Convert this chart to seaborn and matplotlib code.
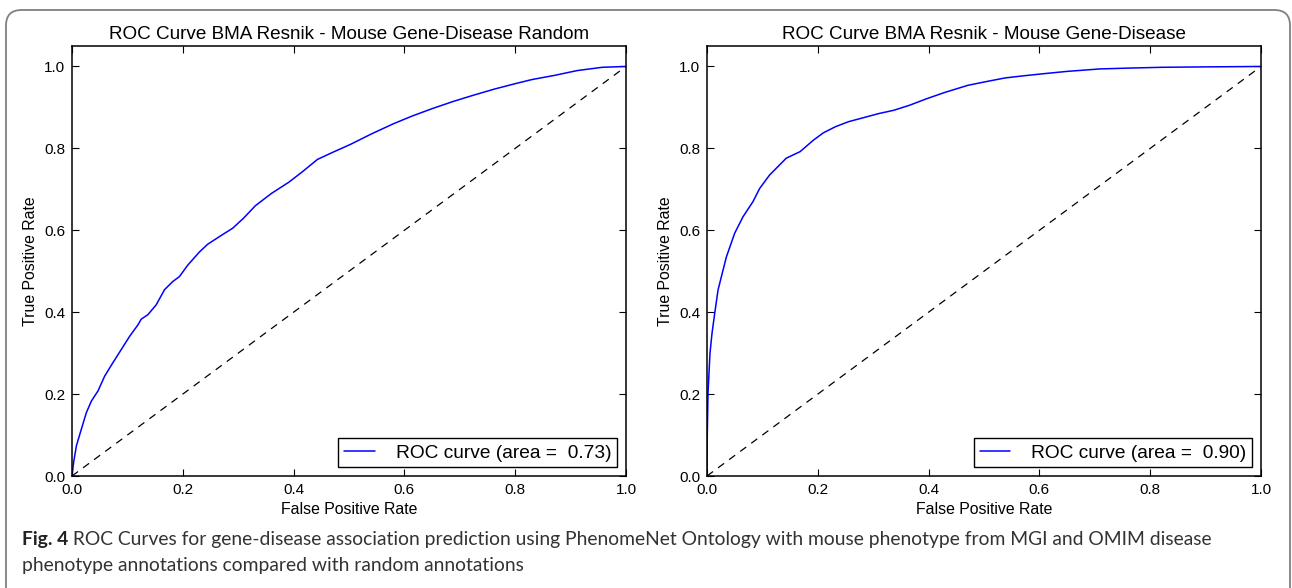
import numpy as np
import pandas as pd
import matplotlib
matplotlib.use("Agg")
import matplotlib.pyplot as plt
import seaborn as sns
from matplotlib.patches import FancyBboxPatch

# ---------------- data ----------------
fpr_random = [0, 0.003, 0.008, 0.017, 0.026, 0.035, 0.047, 0.059, 0.074, 0.089, 0.104,
              0.119, 0.125, 0.137, 0.152, 0.167, 0.182, 0.194, 0.209, 0.23, 0.245, 0.27,
              0.29, 0.31, 0.331, 0.36, 0.391, 0.415, 0.443, 0.47, 0.503, 0.54, 0.58,
              0.614, 0.65, 0.689, 0.725, 0.763, 0.8, 0.83, 0.87, 0.912, 0.957, 1.0]
tpr_random = [0, 0.034, 0.074, 0.115, 0.155, 0.183, 0.208, 0.244, 0.277, 0.309, 0.341,
              0.369, 0.383, 0.394, 0.418, 0.455, 0.475, 0.487, 0.515, 0.547, 0.566, 0.588,
              0.605, 0.63, 0.66, 0.69, 0.717, 0.742, 0.773, 0.79, 0.81, 0.835, 0.86,
              0.879, 0.897, 0.915, 0.93, 0.945, 0.958, 0.968, 0.978, 0.99, 0.998, 1.0]

fpr_disease = [0, 0.0005, 0.0018, 0.0054, 0.009, 0.0139, 0.0199, 0.026, 0.035, 0.05,
               0.065, 0.083, 0.095, 0.113, 0.143, 0.168, 0.192, 0.21, 0.232, 0.255,
               0.277, 0.31, 0.337, 0.365, 0.396, 0.43, 0.471, 0.5, 0.538, 0.57, 0.605,
               0.65, 0.709, 0.76, 0.821, 0.9, 1.0]
tpr_disease = [0, 0.1, 0.202, 0.3, 0.348, 0.397, 0.454, 0.487, 0.535, 0.593,
               0.633, 0.67, 0.702, 0.735, 0.776, 0.792, 0.82, 0.838, 0.853, 0.865,
               0.873, 0.885, 0.893, 0.905, 0.921, 0.937, 0.954, 0.962, 0.972, 0.977, 0.982,
               0.988, 0.994, 0.996, 0.998, 0.999, 1.0]

chance_x = [0.0, 1.0]
chance_y = [0.0, 1.0]

titles = ["ROC Curve BMA Resnik - Mouse Gene-Disease Random",
          "ROC Curve BMA Resnik - Mouse Gene-Disease"]
auc_values = [0.73, 0.90]
tick_values = [0.0, 0.2, 0.4, 0.6, 0.8, 1.0]
tick_labels = ["0.0", "0.2", "0.4", "0.6", "0.8", "1.0"]
caption_bold = "Fig. 4"
caption_line1 = " ROC Curves for gene-disease association prediction using PhenomeNet Ontology with mouse phenotype from MGI and OMIM disease"
caption_line2 = "phenotype annotations compared with random annotations"

# ---------------- style ----------------
sns.set_theme(style="ticks")
plt.rcParams["font.family"] = ["Liberation Sans", "DejaVu Sans"]
plt.rcParams.update({
    "xtick.direction": "in", "ytick.direction": "in",
    "xtick.top": True, "ytick.right": True,
    "xtick.major.size": 5, "ytick.major.size": 5,
    "xtick.major.width": 0.8, "ytick.major.width": 0.8,
    "xtick.major.pad": 5, "ytick.major.pad": 5,
    "axes.linewidth": 1.1, "axes.edgecolor": "black",
    "xtick.color": "black", "ytick.color": "black",
    "text.color": "black", "axes.labelcolor": "black",
})

W, H = 1292, 588
fig = plt.figure(figsize=(W / 100, H / 100), dpi=100)
fig.patch.set_facecolor("white")

# outer rounded frame
frame = FancyBboxPatch((6 / W, -0.05), (1290 - 6) / W, (H - 10) / H + 0.05,
                       boxstyle="round,pad=0,rounding_size=0.012",
                       transform=fig.transFigure, facecolor="none",
                       edgecolor="#808080", linewidth=1.3, mutation_aspect=W / H)
fig.patches.append(frame)

axes_px = [(72, 46, 626, 476), (707, 46, 1261, 476)]
series = [(fpr_random, tpr_random), (fpr_disease, tpr_disease)]

for (x0, y0, x1, y1), (fx, ty), title, auc in zip(axes_px, series, titles, auc_values):
    ax = fig.add_axes([x0 / W, (H - y1) / H, (x1 - x0) / W, (y1 - y0) / H])
    df = pd.DataFrame({"fpr": fx, "tpr": ty})
    sns.lineplot(data=df, x="fpr", y="tpr", ax=ax, color="blue", linewidth=1.1,
                 estimator=None, sort=False,
                 label="ROC curve (area =  %0.2f)" % auc)
    dd = pd.DataFrame({"x": chance_x, "y": chance_y})
    sns.lineplot(data=dd, x="x", y="y", ax=ax, color="black", linewidth=0.9,
                 linestyle=(0, (6, 5)), estimator=None)
    ax.set_xlim(0, 1.0)
    ax.set_ylim(0, 1.05)
    ax.set_xticks(tick_values)
    ax.set_xticklabels(tick_labels)
    ax.set_yticks(tick_values)
    ax.set_yticklabels(tick_labels)
    ax.tick_params(labelsize=11)
    ax.set_xlabel("False Positive Rate", fontsize=11.4, labelpad=4)
    ax.set_ylabel("True Positive Rate", fontsize=11.4, labelpad=4)
    ax.set_title(title, fontsize=13.6, pad=5)
    for s in ax.spines.values():
        s.set_visible(True)
    leg = ax.legend(loc="lower right", fontsize=13.8, fancybox=False, framealpha=1,
                    edgecolor="black", handlelength=1.6, handletextpad=1.1,
                    borderpad=0.3, borderaxespad=0.45)
    leg.get_frame().set_linewidth(1.0)

# caption
cap_font = ["Lato", "DejaVu Sans"]
fig.text(22 / W, 1 - 540 / H, caption_bold, fontsize=13.9, fontweight="bold",
         family=cap_font, color="#222222", va="center", ha="left")
t_bold = fig.texts[-1]
fig.canvas.draw()
bb = t_bold.get_window_extent()
fig.text(bb.x1 / W, 1 - 540 / H, caption_line1, fontsize=13.9,
         family=cap_font, color="#333333", va="center", ha="left")
fig.text(22 / W, 1 - 566 / H, caption_line2, fontsize=13.9,
         family=cap_font, color="#333333", va="center", ha="left")

fig.savefig("out.png", dpi=100, facecolor="white")
